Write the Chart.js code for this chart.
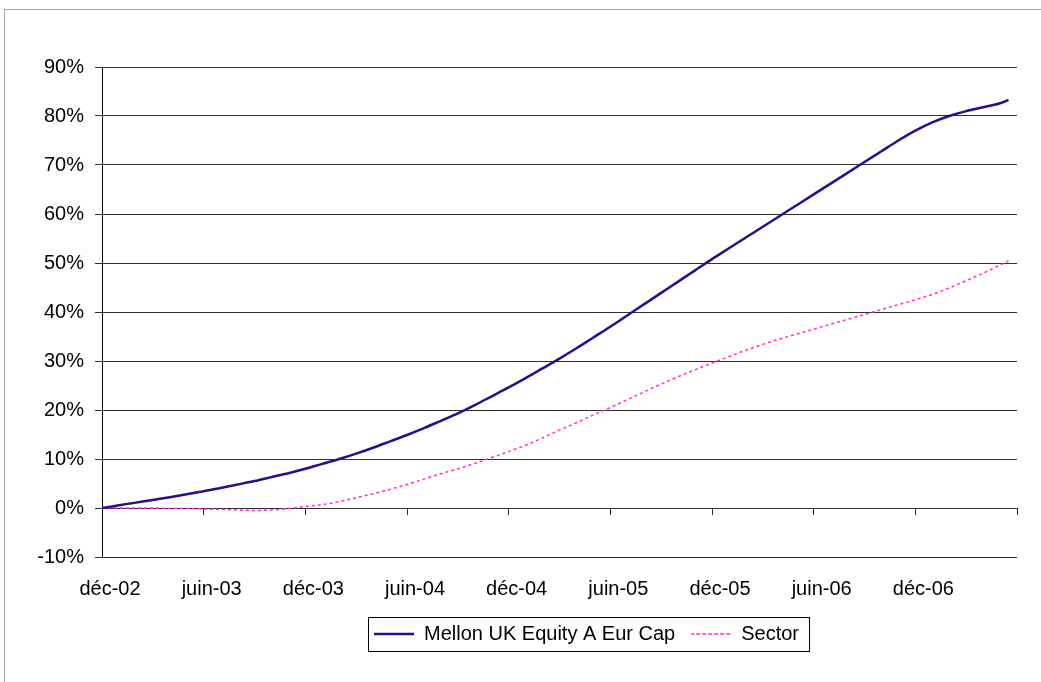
<!DOCTYPE html>
<html>
<head>
<meta charset="utf-8">
<script src="https://cdn.jsdelivr.net/npm/chart.js@4/dist/chart.umd.min.js"></script>
<style>
  html, body { margin: 0; padding: 0; background: #fff; overflow: hidden; }
  #frame { position: absolute; left: 4px; top: 9px; width: 1200px; height: 760px;
           border: 1px solid #a3a3a3; box-sizing: border-box; }
  #c { position: absolute; left: 0; top: 0; }
</style>
</head>
<body>
<div id="frame"></div>
<canvas id="c" width="1041" height="682"></canvas>
<script>
// Months elapsed since December 2002
const months = [0, 1, 2, 3, 4, 5, 6, 7, 8, 9, 10, 11, 12, 13, 14, 15, 16, 17, 18, 19,
  20, 21, 22, 23, 24, 25, 26, 27, 28, 29, 30, 31, 32, 33, 34, 35, 36, 37, 38, 39,
  40, 41, 42, 43, 44, 45, 46, 47, 48, 49, 50, 51, 52, 53, 53.5];

// Cumulative performance, %
const mellon = [0, 0.55, 1.1, 1.65, 2.2, 2.8, 3.4, 4.1, 4.8, 5.5, 6.3, 7.1, 8.0, 9.0, 10.0,
  11.1, 12.3, 13.6, 14.9, 16.3, 17.8, 19.3, 21.0, 22.8, 24.6, 26.5, 28.5, 30.5, 32.6, 34.8,
  37.0, 39.3, 41.6, 43.9, 46.2, 48.5, 50.8, 53.0, 55.2, 57.4, 59.6, 61.8, 64.0, 66.2, 68.4,
  70.6, 72.8, 75.0, 77.0, 78.7, 80.0, 81.0, 81.8, 82.6, 83.3];

const sector = [0, 0, 0, 0, -0.1, -0.1, -0.2, -0.3, -0.4, -0.5, -0.4, -0.1, 0.3, 0.7, 1.3,
  2.1, 2.9, 3.8, 4.8, 5.9, 7.0, 8.0, 9.1, 10.3, 11.5, 12.8, 14.3, 15.9, 17.4, 19.0,
  20.5, 22.1, 23.7, 25.3, 26.8, 28.2, 29.6, 30.9, 32.2, 33.4, 34.5, 35.5, 36.5, 37.5, 38.5,
  39.5, 40.5, 41.5, 42.5, 43.6, 44.9, 46.4, 47.9, 49.6, 50.4];

const seriesNames = ['Mellon UK Equity A Eur Cap', 'Sector'];
const tickLabels = ['déc-02', 'juin-03', 'déc-03', 'juin-04', 'déc-04', 'juin-05', 'déc-05', 'juin-06', 'déc-06'];

const FONT = '"Liberation Sans", Arial, sans-serif';
const LEGEND_SHIFT = 78;

const toPoints = vals => vals.map((v, i) => ({ x: months[i], y: v }));

// Shifts the legend sideways and draws its frame
const legendFrame = {
  id: 'legendFrame',
  afterLayout(chart) {
    const lg = chart.legend;
    lg.left += LEGEND_SHIFT;
    lg.right += LEGEND_SHIFT;
  },
  afterDraw(chart) {
    const lg = chart.legend;
    const o = lg.options.labels;
    const ctx = chart.ctx;
    ctx.save();
    ctx.font = o.font.size + 'px ' + FONT;
    let w = 0;
    lg.legendItems.forEach(it => {
      w += o.boxWidth + o.font.size / 2 + ctx.measureText(it.text).width;
    });
    w += o.padding * (lg.legendItems.length - 1);
    const cx = (lg.left + lg.right) / 2;
    const x0 = Math.round(cx - w / 2 - 6) + 0.5;
    const x1 = Math.round(cx + w / 2 + 10) + 0.5;
    const y0 = Math.round(lg.top + 9) + 0.5;
    ctx.strokeStyle = '#000';
    ctx.lineWidth = 1;
    ctx.strokeRect(x0, y0, x1 - x0, 34);
    ctx.restore();
  }
};

new Chart(document.getElementById('c'), {
  type: 'line',
  data: {
    datasets: [
      {
        label: seriesNames[0],
        data: toPoints(mellon),
        borderColor: '#2c0b8e',
        backgroundColor: '#2c0b8e',
        borderWidth: 2.5,
        pointRadius: 0,
        cubicInterpolationMode: 'monotone',
        xAxisID: 'x'
      },
      {
        label: seriesNames[1],
        data: toPoints(sector),
        borderColor: '#ff2bd6',
        backgroundColor: '#ff2bd6',
        borderWidth: 1.5,
        borderDash: [3, 3],
        pointRadius: 0,
        cubicInterpolationMode: 'monotone',
        xAxisID: 'x'
      }
    ]
  },
  options: {
    responsive: false,
    animation: false,
    devicePixelRatio: 1,
    events: [],
    layout: { padding: { left: 0, top: 67, right: 24, bottom: 28 } },
    plugins: {
      tooltip: { enabled: false },
      legend: {
        position: 'bottom',
        labels: {
          boxWidth: 40,
          boxHeight: 0,
          padding: 16,
          color: '#000',
          font: { family: FONT, size: 20 }
        }
      }
    },
    scales: {
      x: {
        type: 'linear',
        position: 'bottom',
        min: 0,
        max: 54,
        afterFit: s => { s.height = 51; },
        grid: { display: false, drawTicks: false },
        border: { display: false },
        ticks: {
          stepSize: 6,
          autoSkip: false,
          maxRotation: 0,
          padding: 20,
          labelOffset: 8,
          color: '#000',
          font: { family: FONT, size: 20 },
          callback: v => tickLabels[v / 6] ?? ''
        }
      },
      x2: {
        type: 'linear',
        axis: 'x',
        position: { y: 0 },
        min: 0,
        max: 54,
        grid: { drawOnChartArea: false, drawTicks: true, tickLength: 7, color: '#303030', lineWidth: 1 },
        border: { display: false },
        ticks: { stepSize: 6, autoSkip: false, maxRotation: 0, callback: () => '' }
      },
      y: {
        position: 'left',
        min: -10,
        max: 90,
        afterFit: s => { s.width = 102; },
        grid: { color: '#303030', lineWidth: 1, drawTicks: true, tickLength: 7 },
        border: { display: true, color: '#000', width: 1 },
        ticks: {
          stepSize: 10,
          padding: 11,
          color: '#000',
          font: { family: FONT, size: 20 },
          callback: v => v + '%'
        }
      }
    }
  },
  plugins: [legendFrame]
});
</script>
</body>
</html>
